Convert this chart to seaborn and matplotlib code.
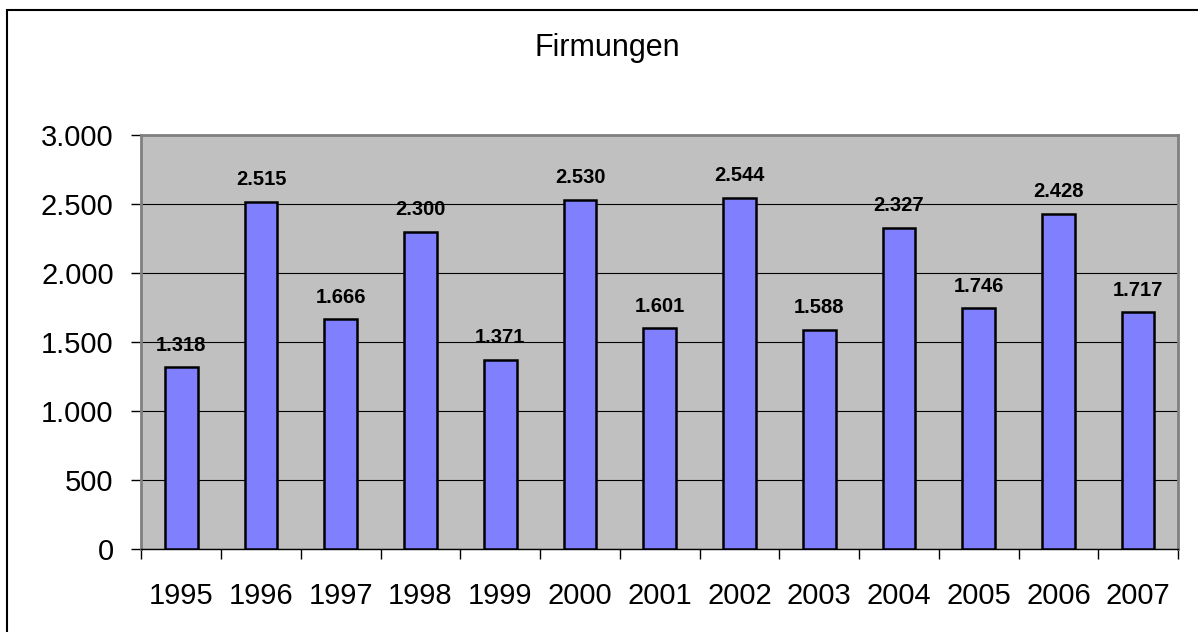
import seaborn as sns
import pandas as pd
import matplotlib.pyplot as plt
from matplotlib.patches import Rectangle
from matplotlib.ticker import FuncFormatter, MultipleLocator

# Daten
jahre = ['1995', '1996', '1997', '1998', '1999', '2000', '2001',
         '2002', '2003', '2004', '2005', '2006', '2007']
firmungen = [1318, 2515, 1666, 2300, 1371, 2530, 1601,
             2544, 1588, 2327, 1746, 2428, 1717]
titel = 'Firmungen'


def tausender(v, pos=None):
    return f'{int(round(v)):,}'.replace(',', '.')


def firmungen_plot():
    sns.set_style('white')
    plt.rcParams['font.family'] = ['Liberation Sans', 'DejaVu Sans']
    plt.rcParams['text.color'] = 'black'
    plt.rcParams['xtick.color'] = 'black'
    plt.rcParams['ytick.color'] = 'black'

    df = pd.DataFrame({'jahr': jahre, 'anzahl': firmungen})

    fig = plt.figure(figsize=(11.98, 6.32), dpi=100)
    ax = fig.add_axes([0.1181, 0.1313, 0.8652, 0.6551])

    sns.barplot(data=df, x='jahr', y='anzahl', color='#8080FF', saturation=1,
                width=0.41, edgecolor='black', linewidth=1.8, ax=ax, zorder=3)

    ax.set_facecolor('#C0C0C0')
    ax.set_ylim(0, 3000)
    ax.set_xlim(-0.5, len(jahre) - 0.5)
    ax.yaxis.set_major_locator(MultipleLocator(500))
    ax.yaxis.set_major_formatter(FuncFormatter(tausender))
    ax.grid(axis='y', color='black', linewidth=0.8, zorder=0)
    ax.set_axisbelow(True)

    # Tick-Striche zwischen den Kategorien
    ax.set_xticks([i + 0.5 for i in range(-1, len(jahre))], minor=True)
    ax.tick_params(axis='x', which='major', length=0, pad=24, labelsize=21)
    ax.tick_params(axis='x', which='minor', length=7, width=1, color='black',
                   direction='out', bottom=True)
    ax.tick_params(axis='y', length=7, width=1, color='black', direction='out',
                   left=True, pad=13, labelsize=21)

    for s in ['top', 'right', 'left']:
        ax.spines[s].set_color('#808080')
        ax.spines[s].set_linewidth(2)
    ax.spines['bottom'].set_color('black')
    ax.spines['bottom'].set_linewidth(1)

    ax.set_xlabel('')
    ax.set_ylabel('')

    ax.bar_label(ax.containers[0], labels=[tausender(v) for v in firmungen],
                 padding=9, fontsize=14.5, fontweight='bold', color='black')

    fig.text(0.507, 0.924, titel, ha='center', va='center', fontsize=22,
             color='black')

    # Rahmen um das Diagramm
    fig.patches.append(Rectangle((7 / 1198, -0.05), 1.1, (622 / 632) + 0.05,
                                 transform=fig.transFigure, fill=False,
                                 edgecolor='black', linewidth=1.5))

    fig.savefig('out.png', dpi=100, facecolor='white')


if __name__ == '__main__':
    firmungen_plot()
